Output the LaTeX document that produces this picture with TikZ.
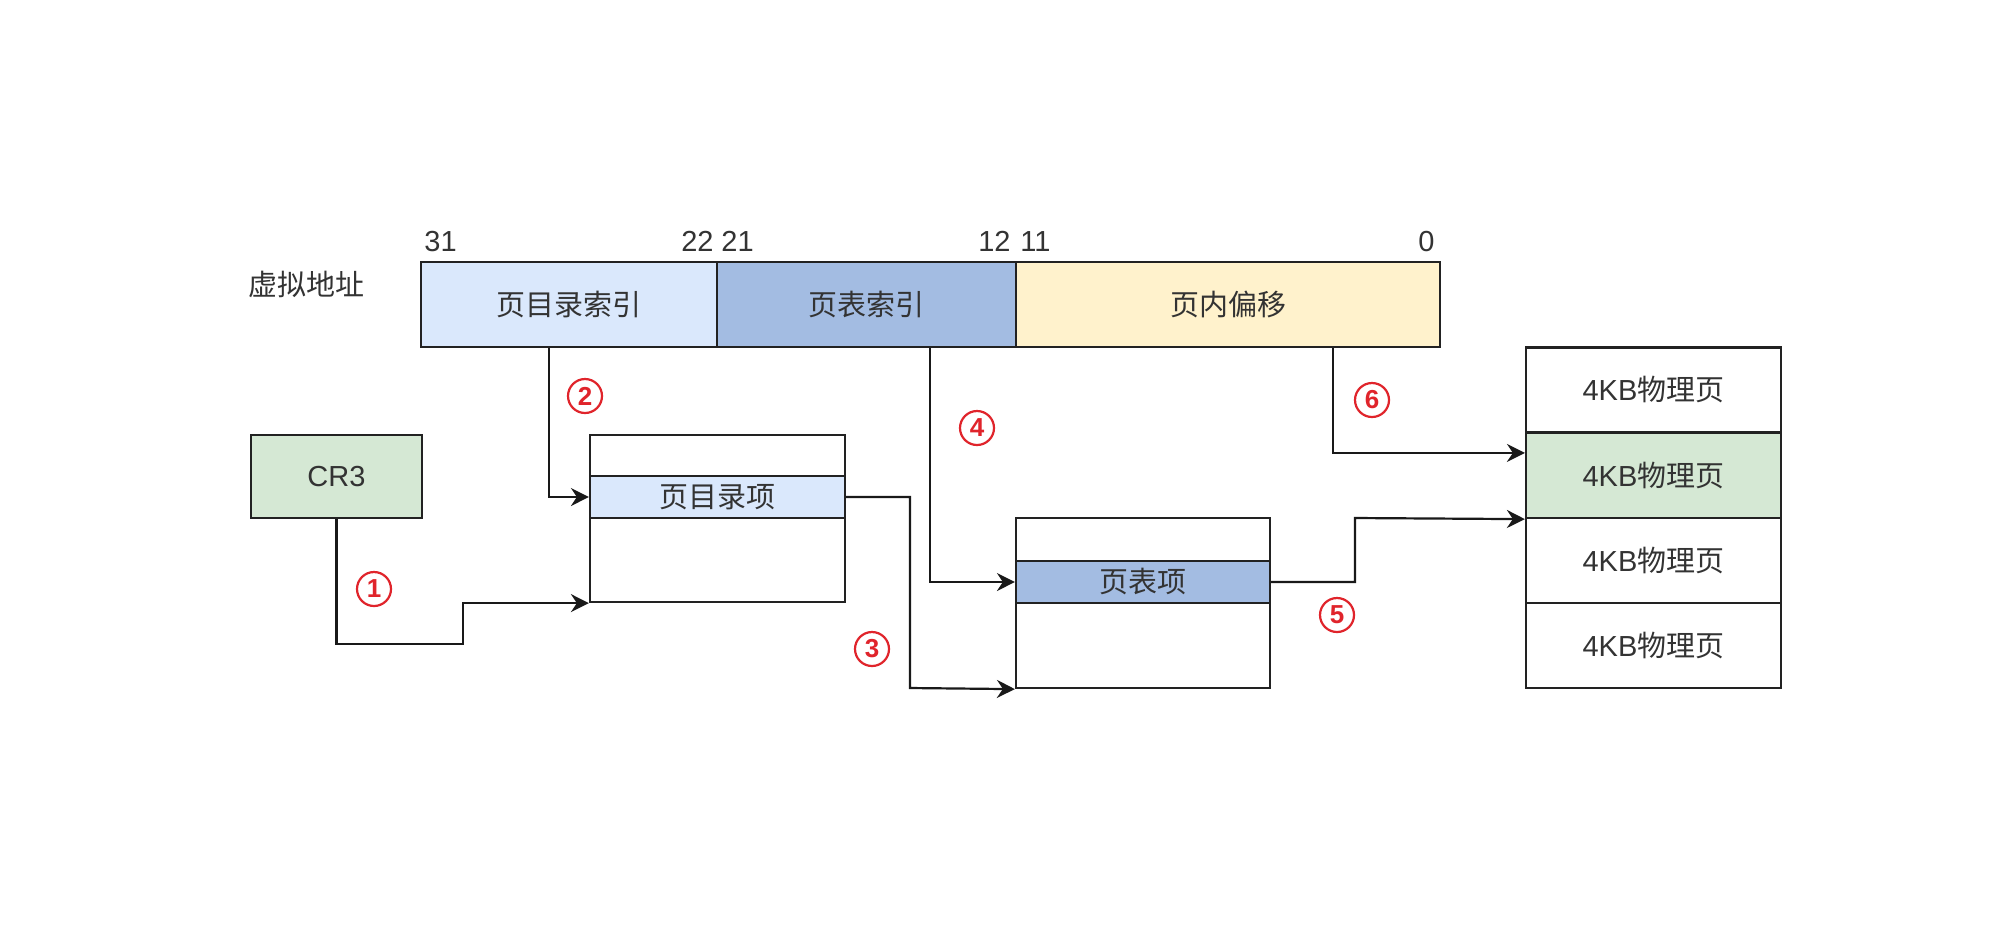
\documentclass[tikz,border=0pt]{standalone}
\usepackage{fontspec}
\setmainfont{Liberation Sans}
\newfontfamily\cjk{Noto Sans CJK SC}
\usetikzlibrary{arrows.meta}
\definecolor{lblue}{HTML}{DAE8FC}
\definecolor{dblue}{HTML}{A3BCE2}
\definecolor{lyellow}{HTML}{FFF2CC}
\definecolor{lgreen}{HTML}{D5E8D4}
\definecolor{mred}{HTML}{E0242B}
\definecolor{lineg}{HTML}{222222}
\definecolor{txtg}{HTML}{333333}
\tikzset{
  cell/.style={draw=lineg, line width=1.1pt, inner sep=0pt, align=center, text=txtg},
  arr/.style={draw=black!90, line width=1.1pt, -{Stealth[length=9pt,width=9pt,inset=3pt]}},
  circ/.style={circle, draw=mred, line width=1.1pt, text=mred, inner sep=0pt, minimum size=17pt, font=\bfseries\fontsize{13pt}{13pt}\selectfont},
  num/.style={inner sep=0pt, text=txtg}
}
\begin{document}
\begin{tikzpicture}[x=0.5pt,y=-0.5pt, font=\fontsize{14.5pt}{17pt}\selectfont]
\useasboundingbox[fill=white] (0,0) rectangle (2016,934);

% virtual address
\node[num] (va) at (306,284) {\cjk 虚拟地址};
\node[cell, fill=lblue, minimum width=148pt, minimum height=42.5pt] (pdi) at (569,304.5) {\cjk 页目录索引};
\node[cell, fill=dblue, minimum width=149.5pt, minimum height=42.5pt] (pti) at (866.5,304.5) {\cjk 页表索引};
\node[cell, fill=lyellow, minimum width=212pt, minimum height=42.5pt] (off) at (1228,304.5) {\cjk 页内偏移};

\node[num, anchor=base west] (n31) at (424,251) {31};
\node[num, anchor=base east] (n22) at (714,251) {22};
\node[num, anchor=base west] (n21) at (721,251) {21};
\node[num, anchor=base east] (n12) at (1011,251) {12};
\node[num, anchor=base west] (n11) at (1020,251) {11};
\node[num, anchor=base east] (n0) at (1435,251) {0};

% CR3
\node[cell, fill=lgreen, minimum width=85.5pt, minimum height=41.5pt] (cr3) at (336.5,476.5) {CR3};

% page directory
\node[cell, fill=white, minimum width=127.5pt, minimum height=83.5pt] (pd) at (717.5,518.5) {};
\node[cell, fill=lblue, minimum width=127.5pt, minimum height=21pt] (pde) at (717.5,497) {\cjk 页目录项};

% page table
\node[cell, fill=white, minimum width=127pt, minimum height=85pt] (pt) at (1143,603) {};
\node[cell, fill=dblue, minimum width=127pt, minimum height=21pt] (pte) at (1143,582) {\cjk 页表项};

% physical pages
\node[cell, fill=white, minimum width=127.5pt, minimum height=42.5pt] (ph1) at (1653.5,390) {4KB{\cjk 物理页}};
\node[cell, fill=lgreen, minimum width=127.5pt, minimum height=42.5pt] (ph2) at (1653.5,475.5) {4KB{\cjk 物理页}};
\node[cell, fill=white, minimum width=127.5pt, minimum height=42.5pt] (ph3) at (1653.5,560.5) {4KB{\cjk 物理页}};
\node[cell, fill=white, minimum width=127.5pt, minimum height=42.5pt] (ph4) at (1653.5,645.5) {4KB{\cjk 物理页}};

% bend coordinates
\coordinate (b1) at (463,644);
\coordinate (c2) at (549,0);
\coordinate (b3) at (910,688);
\coordinate (c4) at (930,0);
\coordinate (b5) at (1355,518);
\coordinate (c6) at (1333,0);

% connectors
\draw[arr] (cr3.south) |- (b1) |- (pd.south west);
\draw[arr] (pdi.south -| c2) |- (pde.west);
\draw[arr] (pde.east) -| (b3) -- (pt.south west);
\draw[arr] (pti.south -| c4) |- (pte.west);
\draw[arr] (pte.east) -| (b5) -- (ph2.south west);
\draw[arr] (off.south -| c6) |- ([yshift=-10.5pt]ph2.north west);

% step labels
\node[circ] (s1) at (374,589) {1};
\node[circ] (s2) at (585,396) {2};
\node[circ] (s3) at (872,649) {3};
\node[circ] (s4) at (977,428) {4};
\node[circ] (s5) at (1337,615) {5};
\node[circ] (s6) at (1372,400) {6};
\end{tikzpicture}
\end{document}
